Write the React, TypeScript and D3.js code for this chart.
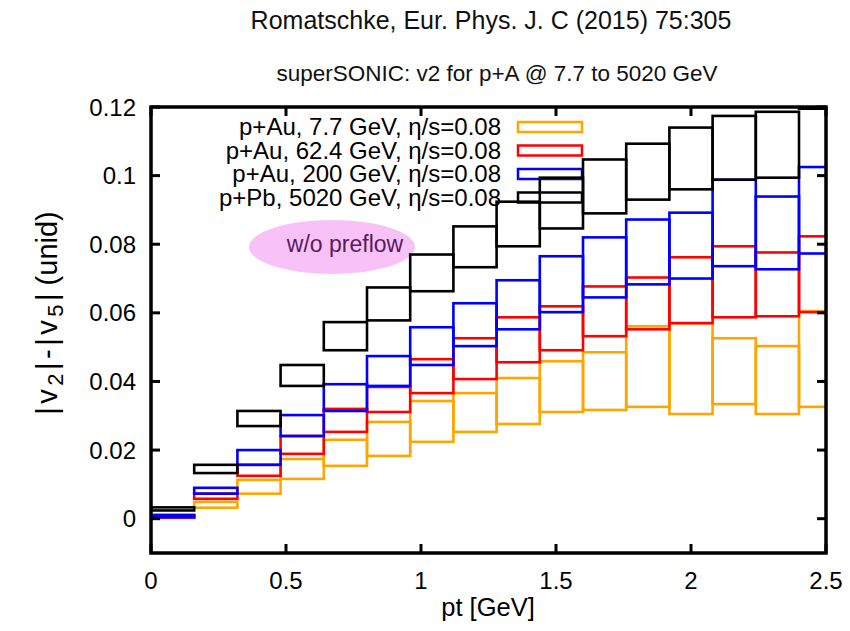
import * as d3 from 'd3';

// pt bins (lower edge), each 0.16 GeV wide
const ptLow = [0, 0.16, 0.32, 0.48, 0.64, 0.8, 0.96, 1.12, 1.28, 1.44, 1.6, 1.76, 1.92, 2.08, 2.24, 2.4];
const binWidth = 0.16;

// lower / upper edge of each band
const au77Lo = [0.0002, 0.0032, 0.0073, 0.0116, 0.0154, 0.0183, 0.0224, 0.0253, 0.0276, 0.0311, 0.0317, 0.0326, 0.0305, 0.0334, 0.0305, 0.0326];
const au77Hi = [0.0007, 0.0049, 0.0113, 0.0174, 0.023, 0.0282, 0.0343, 0.0366, 0.041, 0.0459, 0.0485, 0.0561, 0.057, 0.0526, 0.0503, 0.0605];
const au624Lo = [0.0004, 0.0058, 0.0125, 0.0189, 0.0253, 0.0311, 0.0366, 0.0407, 0.0456, 0.0491, 0.0532, 0.0552, 0.057, 0.0587, 0.059, 0.0602];
const au624Hi = [0.0009, 0.0073, 0.0157, 0.0241, 0.032, 0.0384, 0.0465, 0.0526, 0.0587, 0.0619, 0.0677, 0.0703, 0.0762, 0.0794, 0.0776, 0.0823];
const au200Lo = [0.0004, 0.0073, 0.0157, 0.0241, 0.0314, 0.0387, 0.0448, 0.0503, 0.0552, 0.0602, 0.0645, 0.0683, 0.07, 0.0736, 0.0727, 0.0773];
const au200Hi = [0.0011, 0.009, 0.02, 0.0302, 0.0392, 0.0474, 0.0558, 0.0628, 0.0695, 0.0765, 0.082, 0.0872, 0.0892, 0.0988, 0.0939, 0.1025];
const pb5020Lo = [0.0024, 0.0133, 0.027, 0.0387, 0.0491, 0.0578, 0.0663, 0.0733, 0.0794, 0.0846, 0.089, 0.093, 0.096, 0.0988, 0.0994, 0.1195];
const pb5020Hi = [0.0033, 0.0157, 0.0314, 0.0448, 0.0573, 0.0674, 0.077, 0.0852, 0.0924, 0.0994, 0.1047, 0.1093, 0.114, 0.1174, 0.1186, 0.14];

const seriesNames = [
  'p+Au, 7.7 GeV, η/s=0.08',
  'p+Au, 62.4 GeV, η/s=0.08',
  'p+Au, 200 GeV, η/s=0.08',
  'p+Pb, 5020 GeV, η/s=0.08',
];
const seriesColors = ['#ffa500', '#ff0000', '#0000ff', '#000000'];

const xTicks = [0, 0.5, 1, 1.5, 2, 2.5];
const yTicks = [0, 0.02, 0.04, 0.06, 0.08, 0.1, 0.12];

const W = 850;
const H = 631;
const font = '"Liberation Sans", Arial, Helvetica, sans-serif';

export default function App() {
  const x = d3.scaleLinear().domain([0, 2.5]).range([151, 826]);
  const y = d3.scaleLinear().domain([-0.01, 0.12]).range([553, 107]);
  const fmt = (v: number) => (v === 0 ? '0' : String(v));

  const bands = [
    { lo: au77Lo, hi: au77Hi },
    { lo: au624Lo, hi: au624Hi },
    { lo: au200Lo, hi: au200Hi },
    { lo: pb5020Lo, hi: pb5020Hi },
  ];

  const [x0, x1] = x.range();
  const [y0, y1] = y.range();

  return (
    <svg
      width={W}
      height={H}
      style={{ position: 'absolute', left: 0, top: 0, background: '#fff' }}
      fontFamily={font}
    >
      <defs>
        <clipPath id="plot">
          <rect x={x0} y={y1} width={x1 - x0} height={y0 - y1} />
        </clipPath>
      </defs>
      <rect width={W} height={H} fill="#fff" />

      <text x={491} y={29} textAnchor="middle" fontSize={25} fill="#111">
        Romatschke, Eur. Phys. J. C (2015) 75:305
      </text>
      <text x={497} y={81} textAnchor="middle" fontSize={22.5} fill="#111">
        superSONIC: v2 for p+A @ 7.7 to 5020 GeV
      </text>

      {/* preflow note */}
      <ellipse cx={332} cy={247} rx={83} ry={27} fill="#f8c2f8" />
      <text x={345} y={252} textAnchor="middle" fontSize={23} fill="#5a1a5e">
        w/o preflow
      </text>

      {/* legend */}
      {seriesNames.map((name, i) => {
        const cy = 127 + i * 23.5;
        return (
          <g key={name}>
            <text x={501} y={cy + 8} textAnchor="end" fontSize={24} fill="#000">
              {name}
            </text>
            <rect x={518} y={cy - 5} width={64} height={10} fill="none" stroke={seriesColors[i]} strokeWidth={2.5} />
          </g>
        );
      })}

      {/* bands */}
      <g clipPath="url(#plot)">
        {bands.map((b, s) => (
          <g key={s}>
            {ptLow.map((p, i) => (
              <rect
                key={i}
                x={x(p)}
                y={y(b.hi[i])}
                width={x(p + binWidth) - x(p)}
                height={y(b.lo[i]) - y(b.hi[i])}
                fill="none"
                stroke={seriesColors[s]}
                strokeWidth={2.6}
              />
            ))}
          </g>
        ))}
      </g>

      {/* frame and ticks */}
      <rect x={x0} y={y1} width={x1 - x0} height={y0 - y1} fill="none" stroke="#000" strokeWidth={3.5} />
      {yTicks.map((t) => (
        <g key={t}>
          <line x1={x0} x2={x0 + 9} y1={y(t)} y2={y(t)} stroke="#000" strokeWidth={3} />
          <line x1={x1} x2={x1 - 9} y1={y(t)} y2={y(t)} stroke="#000" strokeWidth={3} />
          <text x={136} y={y(t) + 8.5} textAnchor="end" fontSize={24} fill="#000">
            {fmt(t)}
          </text>
        </g>
      ))}
      {xTicks.map((t) => (
        <g key={t}>
          <line x1={x(t)} x2={x(t)} y1={y0} y2={y0 - 9} stroke="#000" strokeWidth={3} />
          <line x1={x(t)} x2={x(t)} y1={y1} y2={y1 + 9} stroke="#000" strokeWidth={3} />
          <text x={x(t)} y={589} textAnchor="middle" fontSize={24} fill="#000">
            {fmt(t)}
          </text>
        </g>
      ))}

      <text x={488} y={616} textAnchor="middle" fontSize={25.5} fill="#000">
        pt [GeV]
      </text>
      <text transform="translate(57,313) rotate(-90)" textAnchor="middle" fontSize={29} fill="#000">
        <tspan letterSpacing={3.5}>|v</tspan>
        <tspan fontSize={22} dy={6} letterSpacing={3.5}>2</tspan>
        <tspan dy={-6} letterSpacing={3.5}>|-|v</tspan>
        <tspan fontSize={22} dy={6} letterSpacing={3.5}>5</tspan>
        <tspan dy={-6}>| (unid)</tspan>
      </text>
    </svg>
  );
}
